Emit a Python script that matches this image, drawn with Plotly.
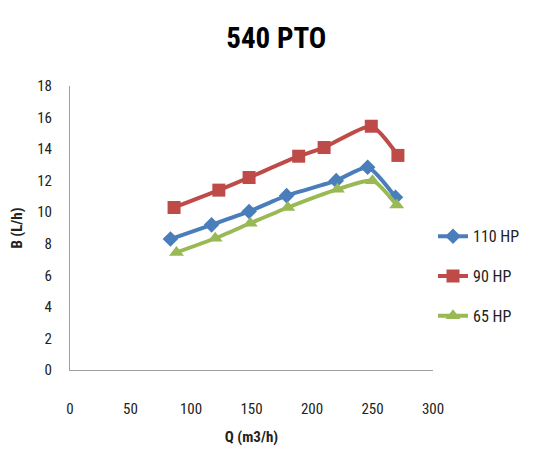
import plotly.graph_objects as go

q_110 = [83, 117, 148, 179, 220, 246, 269]
b_110 = [8.3, 9.2, 10.05, 11.05, 12.0, 12.85, 10.95]
q_90 = [86, 123, 148, 189, 210, 249, 271]
b_90 = [10.3, 11.4, 12.2, 13.55, 14.1, 15.45, 13.6]
q_65 = [88, 120, 149, 180, 221, 250, 270]
b_65 = [7.45, 8.35, 9.3, 10.3, 11.45, 12.0, 10.45]

FONT = "Liberation Sans Narrow, Roboto Condensed, DejaVu Sans Condensed, sans-serif"

fig = go.Figure()
series = [
    ("110 HP", q_110, b_110, "#4A7EBB", "diamond", 12),
    ("90 HP", q_90, b_90, "#BE4B48", "square", 13),
    ("65 HP", q_65, b_65, "#98B954", "triangle-up", 13),
]
for name, x, y, c, sym, sz in series:
    fig.add_trace(go.Scatter(
        x=x, y=y, name=name, mode="lines+markers",
        line=dict(color=c, width=4, shape="spline", smoothing=0.6),
        marker=dict(symbol=sym, size=sz, color=c),
        legendgroup=name,
    ))

fig.update_layout(
    width=552, height=466,
    paper_bgcolor="white", plot_bgcolor="white",
    margin=dict(l=62, r=127, t=78, b=104),
    font=dict(family=FONT, size=15, color="#222"),
    title=dict(text="<b>540 PTO</b>", x=0.486, xanchor="center", xref="container",
               y=0.936, yanchor="middle", font=dict(size=29, color="#000")),
    showlegend=True,
    legend=dict(x=1.0, xanchor="left", y=0.33, yanchor="middle",
                tracegroupgap=16, font=dict(size=16, color="#222")),
    xaxis=dict(range=[0, 300], dtick=50, showgrid=False, zeroline=False,
               showline=True, linecolor="#A0A0A0", linewidth=1,
               ticks="", ticklabelstandoff=25, automargin=False,
               title=dict(text="<b>Q (m3/h)</b>", standoff=14,
                          font=dict(size=15))),
    yaxis=dict(range=[0, 18], dtick=2, showgrid=False, zeroline=False,
               showline=True, linecolor="#A0A0A0", linewidth=1,
               ticks="", ticklabelstandoff=14, automargin=False,
               title=dict(text="<b>B (L/h)</b>", standoff=12,
                          font=dict(size=15))),
)

fig.write_html("out.html")
